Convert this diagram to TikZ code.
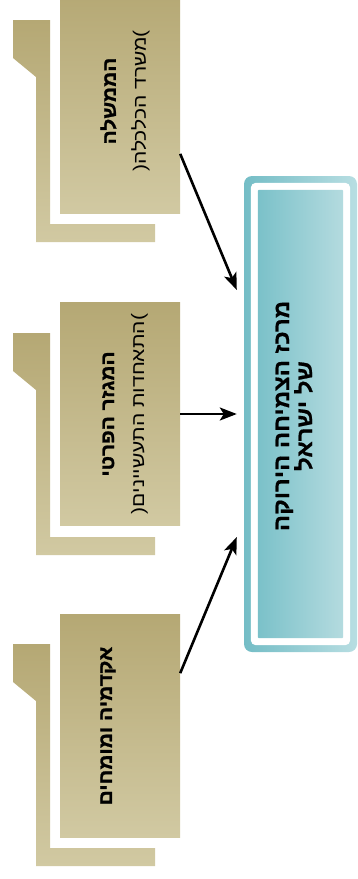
\documentclass[tikz,border=0pt]{standalone}
\usepackage{fontspec}
\newfontfamily\hebtitle[Script=Hebrew, FakeStretch=1.1, FakeBold=1.2]{Liberation Sans Bold}
\newfontfamily\hebsub[Script=Hebrew, FakeStretch=1.17]{Liberation Sans}
\newfontfamily\hebmain[Script=Hebrew, FakeStretch=1.09, FakeBold=0.6]{Liberation Sans Bold}
\TeXXeTstate=1
\usetikzlibrary{arrows.meta,calc}

\definecolor{goldtop}{HTML}{B5A874}
\definecolor{goldbot}{HTML}{D1C9A2}
\definecolor{tealL}{HTML}{74BDC6}
\definecolor{tealR}{HTML}{B8DEE2}
\definecolor{innerL}{HTML}{7BC1C9}
\definecolor{innerR}{HTML}{B4DBDF}

\tikzset{
  front/.style={rectangle, minimum width=120pt, minimum height=223pt,
    inner sep=0pt, top color=goldtop, bottom color=goldbot},
  backing/.style={top color=goldtop, bottom color=goldbot},
  boxtext/.style={rotate=90, align=center, inner sep=0pt,
    font=\fontsize{18}{30}\selectfont},
  titlefont/.style={font=\hebtitle\fontsize{19}{30}\selectfont},
  maintext/.style={rotate=90, align=center, inner sep=0pt,
    font=\hebmain\fontsize{22}{22}\selectfont},
  link/.style={-{Stealth[length=17pt,width=13pt,inset=4pt]}, line width=2.6pt, black}
}

% L-shaped backing behind a source box whose top edge is at y = -#1
\newcommand{\backL}[1]{%
  \path[backing] (13,-#1-30) -- (50,-#1-30) -- (50,-#1-234) -- (155,-#1-234)
    -- (155,-#1-252) -- (36,-#1-252) -- (36,-#1-87) -- (13,-#1-68) -- cycle;}

\begin{document}
\begin{tikzpicture}[x=1pt,y=1pt]
\useasboundingbox (0,0) rectangle (357,-879);
\clip (0,0) rectangle (357,-879);

% source boxes with their backings
\backL{-10}
\node[front] (b1) at (120,-101.5) {};
\backL{303}
\node[front] (b2) at (120,-414) {};
\backL{614}
\node[front] (b3) at (120,-725.5) {};

\node[boxtext] (t1) at (125,-101)
  {{\hebtitle\fontsize{19}{30}\selectfont\beginR הממשלה\endR}\\{\hebsub(\beginR משרד הכלכלה\endR)}};
\node[boxtext] (t2) at (125,-414)
  {{\hebtitle\fontsize{19}{30}\selectfont\beginR המגזר הפרטי\endR}\\{\hebsub(\beginR התאחדות התעשיינים\endR)}};
\node[boxtext, titlefont] (t3) at (108,-726)
  {\beginR אקדמיה ומומחים\endR};

% target box: teal frame, white ring, shaded panel
\node[rectangle, rounded corners=8pt, minimum width=113pt, minimum height=476pt,
  inner sep=0pt, left color=tealL, right color=tealR] (main) at (300.5,-414) {};
\path[fill=white, rounded corners=5pt]
  ($(main.south west)+(7,7)$) rectangle ($(main.north east)+(-7,-7)$);
\path[left color=innerL, right color=innerR, rounded corners=1pt]
  ($(main.south west)+(14,14)$) rectangle ($(main.north east)+(-14,-14)$);
\node[maintext] (mt) at (294,-416)
  {\beginR מרכז הצמיחה הירוקה\endR\\\beginR של ישראל\endR};

% connectors
\coordinate (e1) at ($(main.west)+(-7,124)$);
\coordinate (e2) at ($(main.west)+(-7,0)$);
\coordinate (e3) at ($(main.west)+(-7,-123)$);
\draw[link] (b1.-41.7) -- (e1);
\draw[link] (b2.east) -- (e2);
\draw[link] (b3.41.7) -- (e3);
\end{tikzpicture}
\end{document}
